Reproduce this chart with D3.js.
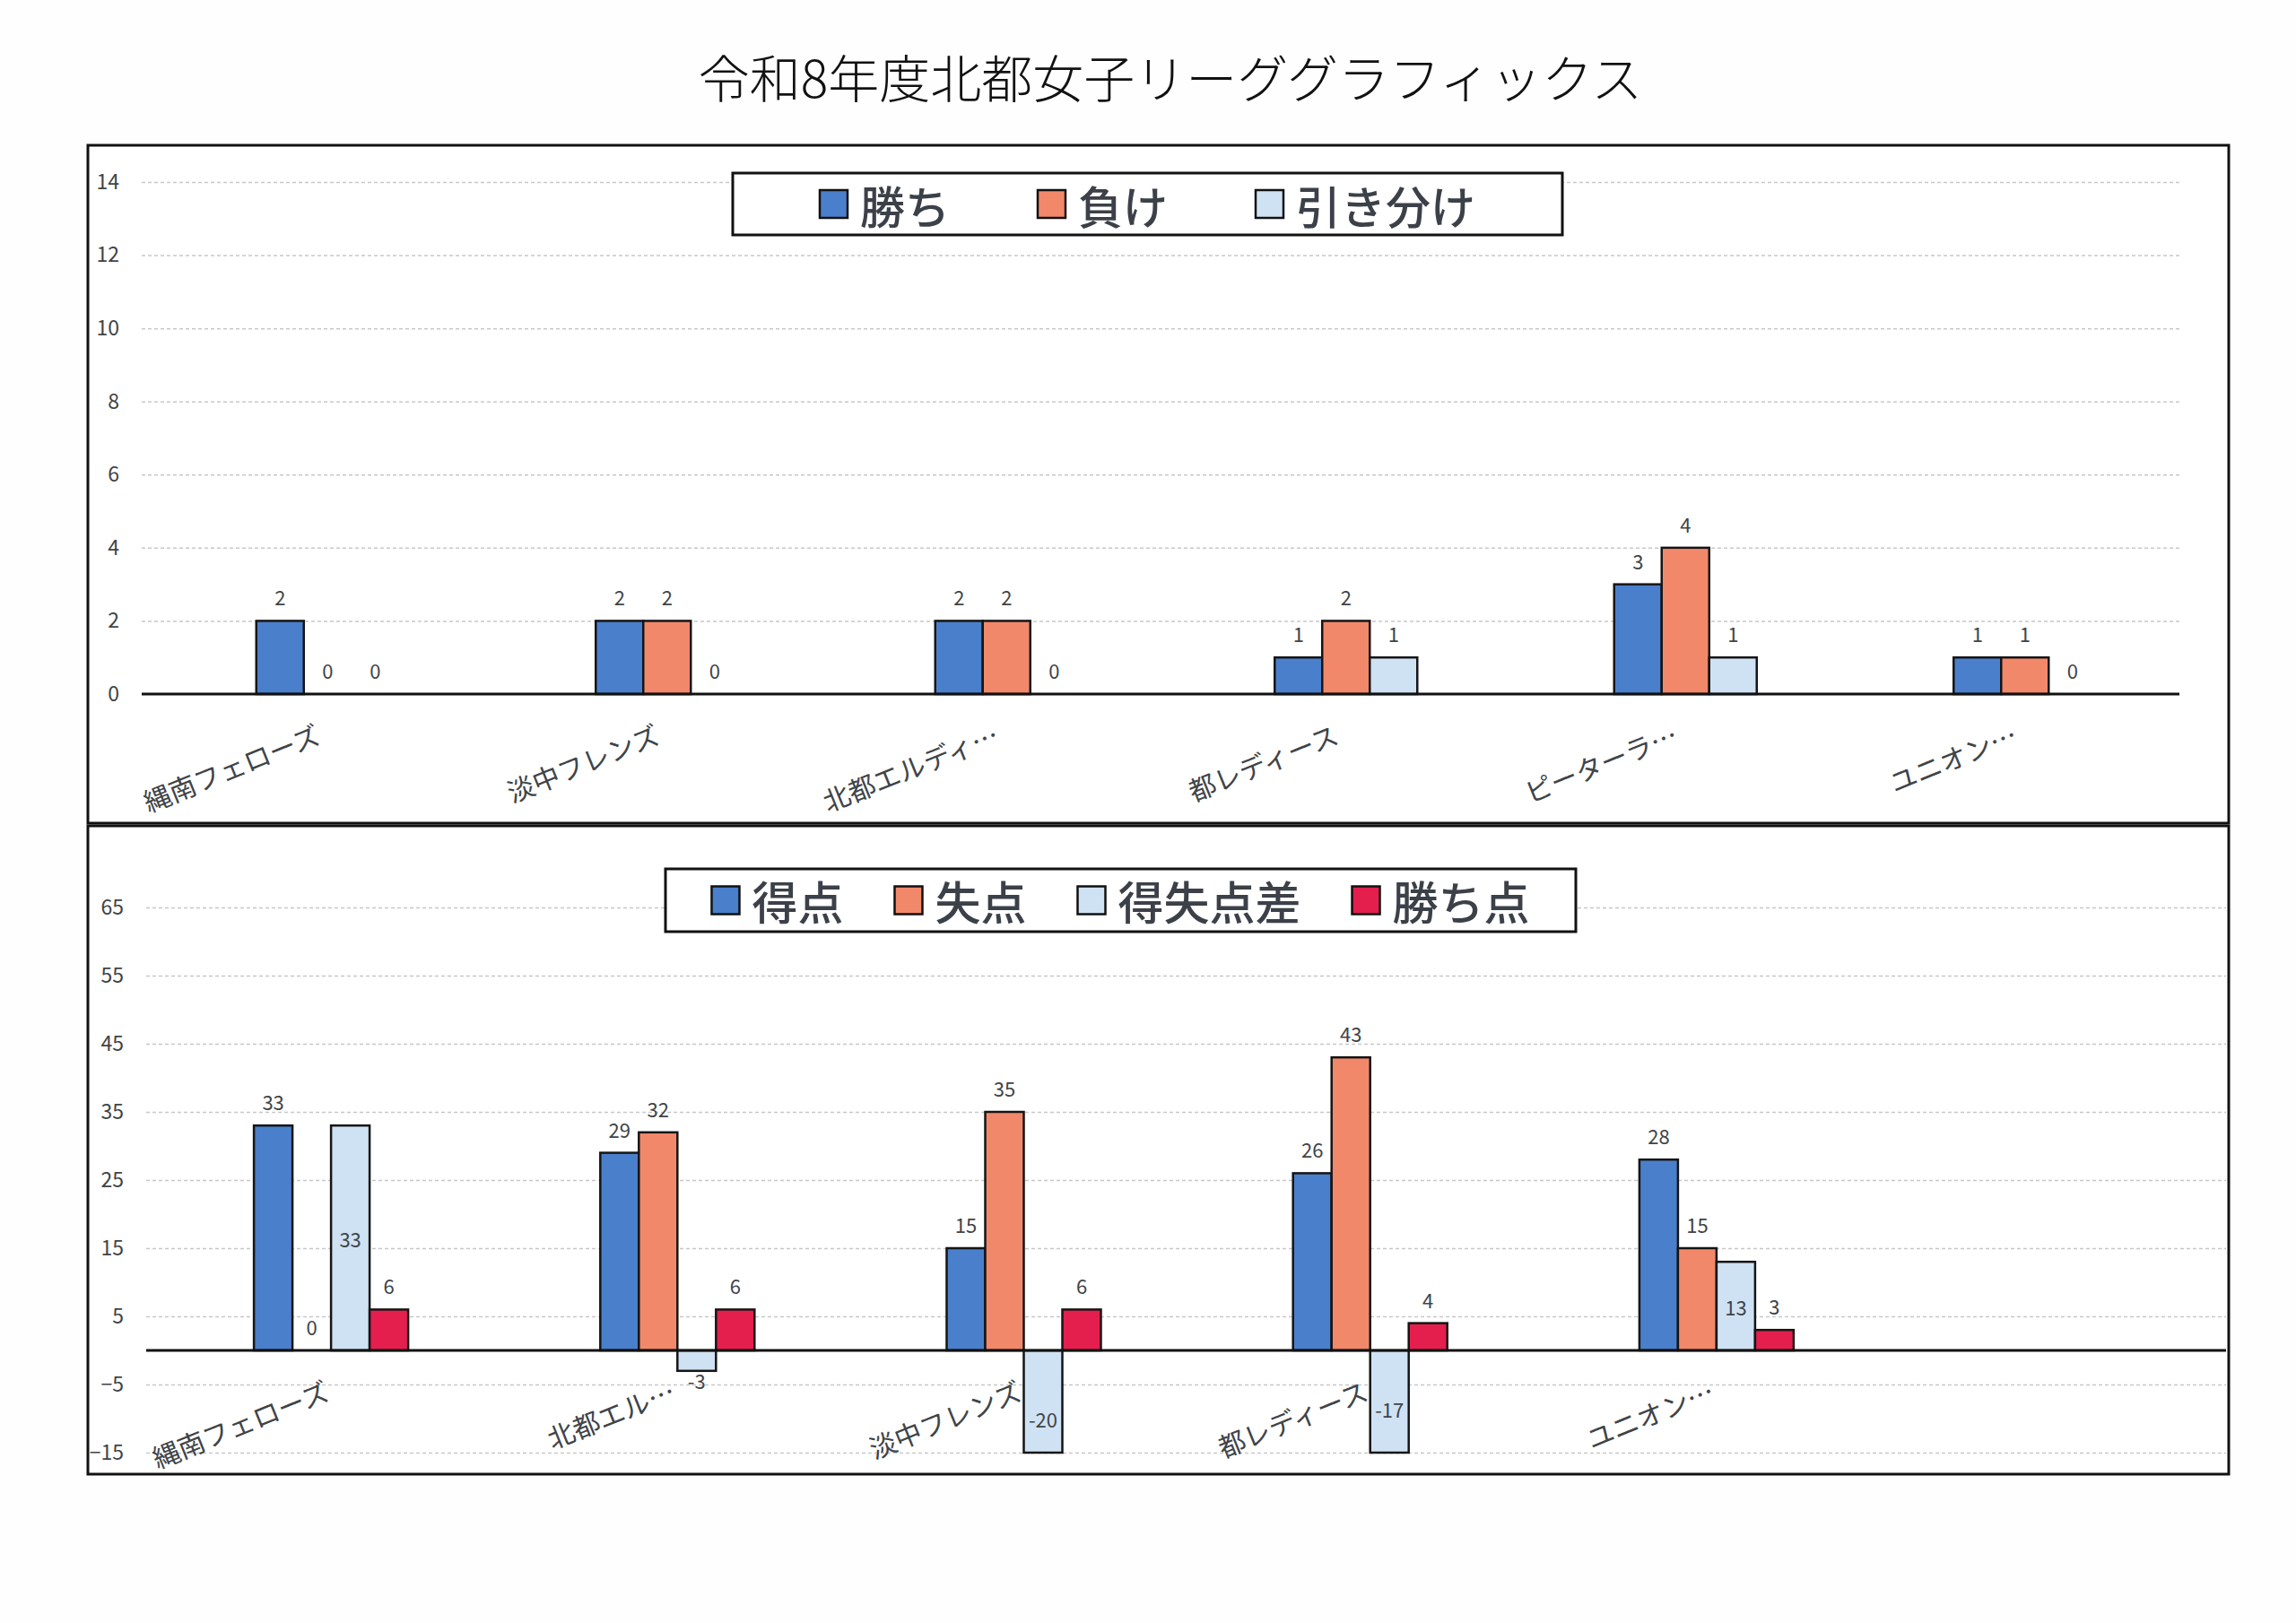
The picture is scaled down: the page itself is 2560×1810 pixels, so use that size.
<!DOCTYPE html>
<html>
<head>
<meta charset="utf-8">
<script src="https://cdn.jsdelivr.net/npm/d3@7"></script>
<style>
  html, body { margin: 0; padding: 0; background: #ffffff; }
  svg { display: block; }
  text { font-family: 'Noto Sans CJK JP', 'Noto Sans', sans-serif; }
</style>
</head>
<body>
<script>
// ---------------- DATA ----------------
const titleText = "令和8年度北都女子リーググラフィックス";

const teamsTop = ["縄南フェローズ", "淡中フレンズ", "北都エルディ…", "都レディース", "ピーターラ…", "ユニオン…"];
const topSeriesNames = ["勝ち", "負け", "引き分け"];
const wins   = [2, 2, 2, 1, 3, 1];
const losses = [0, 2, 2, 2, 4, 1];
const draws  = [0, 0, 0, 1, 1, 0];
const topTicks = [0, 2, 4, 6, 8, 10, 12, 14];

const teamsBottom = ["縄南フェローズ", "北都エル…", "淡中フレンズ", "都レディース", "ユニオン…", " "];
const bottomSeriesNames = ["得点", "失点", "得失点差", "勝ち点"];
const goalsFor     = [33, 29, 15, 26, 28];
const goalsAgainst = [0, 32, 35, 43, 15];
const goalDiff     = [33, -3, -20, -17, 13];
const points       = [6, 6, 6, 4, 3];
const bottomTicks = [-15, -5, 5, 15, 25, 35, 45, 55, 65];

// ---------------- STYLE ----------------
const C_BLUE = "#4a7fcb", C_ORANGE = "#f2886a", C_LIGHT = "#cfe2f4", C_RED = "#e41f4e";
const TEXT_GRAY = "#404448";
const FONT = "'Noto Sans CJK JP', 'Noto Sans', sans-serif";

const svg = d3.select("body").append("svg")
  .attr("width", 2560).attr("height", 1810)
  .attr("viewBox", "0 0 2560 1810");

svg.append("rect").attr("width", 2560).attr("height", 1810).attr("fill", "#fefefe");

// Title
svg.append("text")
  .attr("x", 1305).attr("y", 84)
  .attr("text-anchor", "middle").attr("dominant-baseline", "central")
  .attr("font-size", 57).attr("font-weight", 300).attr("fill", "#111")
  .text(titleText);

// ---------------- generic panel ----------------
function drawPanel(cfg) {
  const g = svg.append("g");
  g.append("rect")
    .attr("x", cfg.box[0]).attr("y", cfg.box[1])
    .attr("width", cfg.box[2]).attr("height", cfg.box[3])
    .attr("fill", "#ffffff").attr("stroke", "#111").attr("stroke-width", 3);

  const x = d3.scaleBand().domain(cfg.categories)
    .range([cfg.bandStart, cfg.bandStart + cfg.categories.length * cfg.bandWidth]);
  const nS = cfg.series.length;
  const xs = d3.scaleBand().domain(d3.range(nS)).range([0, nS * cfg.barWidth]);
  const y = d3.scaleLinear().domain(cfg.yDomain).range(cfg.yRange).clamp(true);
  const yFree = y.copy().clamp(false);

  // gridlines + y tick labels
  const yAxis = g.append("g")
    .attr("transform", `translate(${cfg.gridX0},0)`)
    .call(d3.axisLeft(y).tickValues(cfg.ticks).tickSize(-(cfg.gridX1 - cfg.gridX0)).tickPadding(25).tickFormat(d3.format("d")));
  yAxis.select(".domain").remove();
  yAxis.selectAll(".tick line")
    .attr("stroke", "#c8c8c8").attr("stroke-width", 1.5).attr("stroke-dasharray", "4 3")
    .attr("display", d => d === 0 ? "none" : null);
  yAxis.selectAll(".tick text")
    .attr("font-family", FONT).attr("font-size", 23).attr("fill", TEXT_GRAY);

  // bars
  const groupOffset = x.bandwidth() / 2 - (nS * cfg.barWidth) / 2;
  cfg.series.forEach((s, j) => {
    const data = s.values.map((v, i) => ({ v, c: cfg.categories[i] }));
    g.append("g").selectAll("rect").data(data).join("rect")
      .attr("x", d => x(d.c) + groupOffset + xs(j))
      .attr("y", d => Math.min(y(d.v), y(0)))
      .attr("width", xs.bandwidth())
      .attr("height", d => Math.abs(y(d.v) - y(0)))
      .attr("fill", s.color)
      .attr("stroke", "#151515").attr("stroke-width", 2.5);
  });

  // zero baseline
  g.append("line")
    .attr("x1", cfg.gridX0).attr("x2", cfg.gridX1)
    .attr("y1", y(0)).attr("y2", y(0))
    .attr("stroke", "#111").attr("stroke-width", 3);

  // value labels
  cfg.series.forEach((s, j) => {
    const data = s.values.map((v, i) => ({ v, c: cfg.categories[i] }));
    g.append("g").selectAll("text").data(data).join("text")
      .attr("x", d => x(d.c) + groupOffset + xs(j) + xs.bandwidth() / 2)
      .attr("y", d => {
        if (s.centerLabels) {
          const h = Math.abs(yFree(d.v) - yFree(0));
          if (h >= 40) return (yFree(d.v) + yFree(0)) / 2;
          return d.v < 0 ? y(d.v) + 10 : y(d.v) - 27;
        }
        return y(d.v) - 27;
      })
      .attr("text-anchor", "middle").attr("dominant-baseline", "central")
      .attr("font-family", FONT).attr("font-size", 22).attr("fill", TEXT_GRAY)
      .text(d => d.v);
  });

  // category labels
  const xAxis = g.append("g")
    .attr("transform", `translate(0,${y(0)})`)
    .call(d3.axisBottom(x).tickSize(0));
  xAxis.select(".domain").remove();
  xAxis.selectAll(".tick text")
    .attr("x", 0).attr("y", 0).attr("dy", "0.88em")
    .attr("text-anchor", "end")
    .attr("transform", `translate(${cfg.labelDx},${cfg.labelDy}) rotate(-22)`)
    .attr("font-family", FONT).attr("font-size", 30).attr("fill", TEXT_GRAY);

  // legend
  const L = cfg.legend;
  const lg = g.append("g");
  lg.append("rect")
    .attr("x", L.box[0]).attr("y", L.box[1]).attr("width", L.box[2]).attr("height", L.box[3])
    .attr("fill", "#ffffff").attr("stroke", "#111").attr("stroke-width", 3);
  const cy = L.box[1] + L.box[3] / 2;
  const items = lg.append("g");
  let cursor = 0;
  cfg.series.forEach((s, j) => {
    const it = items.append("g").attr("transform", `translate(${cursor},0)`);
    it.append("rect")
      .attr("x", 0).attr("y", cy - L.sq / 2).attr("width", L.sq).attr("height", L.sq)
      .attr("fill", s.color).attr("stroke", "#111").attr("stroke-width", 2.5);
    const t = it.append("text")
      .attr("x", L.sq + L.textGap).attr("y", cy)
      .attr("dominant-baseline", "central")
      .attr("font-family", FONT).attr("font-size", L.fontSize).attr("font-weight", 500)
      .attr("fill", "#3c4048")
      .text(s.name);
    const w = t.node().getComputedTextLength();
    cursor += L.sq + L.textGap + w + (j < nS - 1 ? L.itemGap : 0);
  });
  const startX = L.box[0] + (L.box[2] - cursor) / 2;
  items.attr("transform", `translate(${startX},0)`);
}

// ---------------- top panel ----------------
drawPanel({
  box: [98, 162, 2387, 756],
  categories: teamsTop,
  series: [
    { name: topSeriesNames[0], values: wins, color: C_BLUE },
    { name: topSeriesNames[1], values: losses, color: C_ORANGE },
    { name: topSeriesNames[2], values: draws, color: C_LIGHT }
  ],
  bandStart: 176, bandWidth: 378.5, barWidth: 53,
  yDomain: [0, 14], yRange: [774, 203], ticks: topTicks,
  gridX0: 158, gridX1: 2430,
  labelDx: -16, labelDy: 30,
  legend: { box: [817, 193, 925, 69], sq: 31, textGap: 14, itemGap: 98, fontSize: 50 }
});

// ---------------- bottom panel ----------------
drawPanel({
  box: [98, 921, 2387, 723],
  categories: teamsBottom,
  series: [
    { name: bottomSeriesNames[0], values: goalsFor, color: C_BLUE },
    { name: bottomSeriesNames[1], values: goalsAgainst, color: C_ORANGE },
    { name: bottomSeriesNames[2], values: goalDiff, color: C_LIGHT, centerLabels: true },
    { name: bottomSeriesNames[3], values: points, color: C_RED }
  ],
  bandStart: 176, bandWidth: 386.2, barWidth: 43,
  yDomain: [-15, 75], yRange: [1620, 936], ticks: bottomTicks,
  gridX0: 163, gridX1: 2482,
  labelDx: -10, labelDy: 30,
  legend: { box: [742, 969, 1015, 70], sq: 31, textGap: 14, itemGap: 57, fontSize: 51 }
});
</script>
</body>
</html>
